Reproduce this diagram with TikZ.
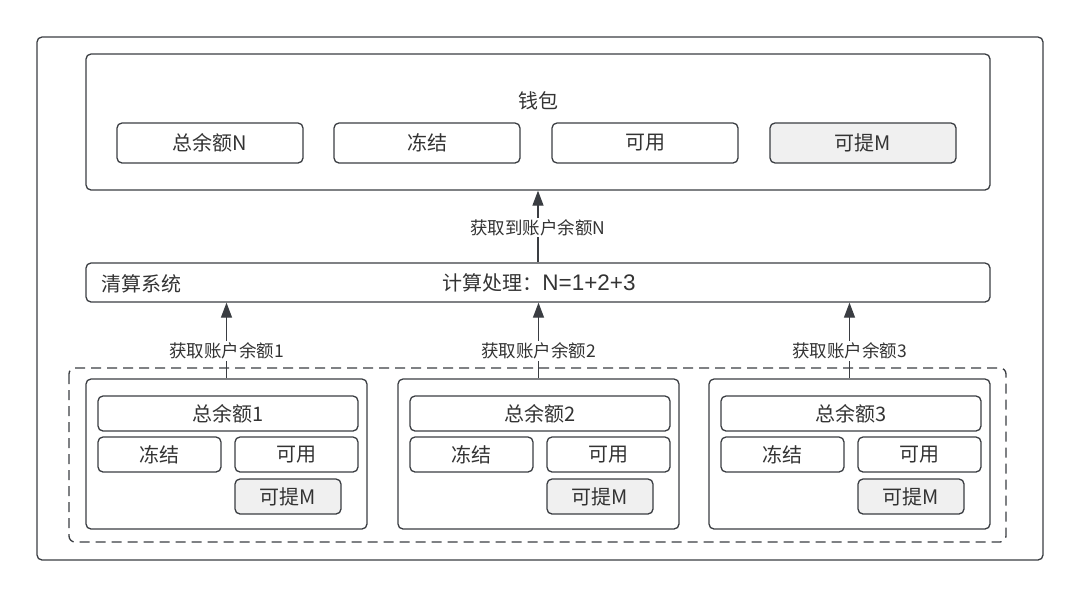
\documentclass[tikz,border=0pt]{standalone}
\usepackage{fontspec}
\setmainfont{Noto Sans CJK SC}
\newfontfamily\latfont{Liberation Sans}
\usetikzlibrary{arrows.meta}
\definecolor{ln}{HTML}{3A3D42}
\definecolor{tx}{HTML}{333333}
\definecolor{gr}{HTML}{F0F0F0}
\tikzset{
  box/.style={draw=ln, line width=1.3pt, rounded corners=5pt, inner sep=0pt, text=tx},
  big/.style={font=\fontsize{20}{20}\selectfont},
  item/.style={box, big},
  grayitem/.style={item, fill=gr},
  lbl/.style={fill=white, inner sep=1.5pt, text=tx, font=\fontsize{17.5}{17.5}\selectfont},
  arr/.style={draw=ln, line width=1.3pt, -{Triangle[length=15pt,width=11pt]}},
}
\begin{document}
\begin{tikzpicture}[x=1pt,y=-1pt]
\useasboundingbox (0,0) rectangle (1080,598);
\node[box, minimum width=1006pt, minimum height=523pt] (outer) at (540,298.5) {};
% wallet
\node[box, minimum width=904pt, minimum height=136pt] (wallet) at (538,122) {};
\node[text=tx, big] (wtitle) at (538,101) {钱包};
\node[item, minimum width=186pt, minimum height=40pt] (wn) at (210,143) {总余额N};
\node[item, minimum width=186pt, minimum height=40pt] (wf) at (427,143) {冻结};
\node[item, minimum width=186pt, minimum height=40pt] (wa) at (645,143) {可用};
\node[grayitem, minimum width=186pt, minimum height=40pt] (wm) at (863,143) {可提M};
% clearing
\node[box, minimum width=904pt, minimum height=39pt] (qs) at (538,282.5) {};
\node[anchor=west, text=tx, big, inner sep=0pt] (qstitle) at (101,284) {清算系统};
\node[text=tx, big] (calc) at (539,283) {计算处理：{\latfont\fontsize{22.5}{22.5}\selectfont N=1+2+3}};
\draw[arr] (qs.north) -- (wallet.south) node[lbl, midway, yshift=-1pt] (lN) {获取到账户余额N};
% dashed group
\draw[ln, line width=1.3pt, dash pattern=on 10pt off 6pt, rounded corners=6pt] (69,368) rectangle (1006,542);
\foreach \k/\xo in {1/86,2/398,3/709}{
  \node[box, minimum width=281pt, minimum height=150pt] (acct\k) at (\xo+140.5,454) {};
  \node[item, minimum width=260pt, minimum height=35pt] (tot\k) at (\xo+142,413.5) {总余额\k};
  \node[item, minimum width=123pt, minimum height=35pt] (frz\k) at (\xo+73.5,454.5) {冻结};
  \node[item, minimum width=123pt, minimum height=35pt] (avl\k) at (\xo+210.5,454.5) {可用};
  \node[grayitem, minimum width=106pt, minimum height=35pt] (wd\k) at (\xo+202,496.5) {可提M};
  \draw[arr] (acct\k.north) -- (acct\k.north |- qs.south);
  \node[lbl] (lab\k) at (acct\k.north |- 0,351) {获取账户余额\k};
}
\end{tikzpicture}
\end{document}
